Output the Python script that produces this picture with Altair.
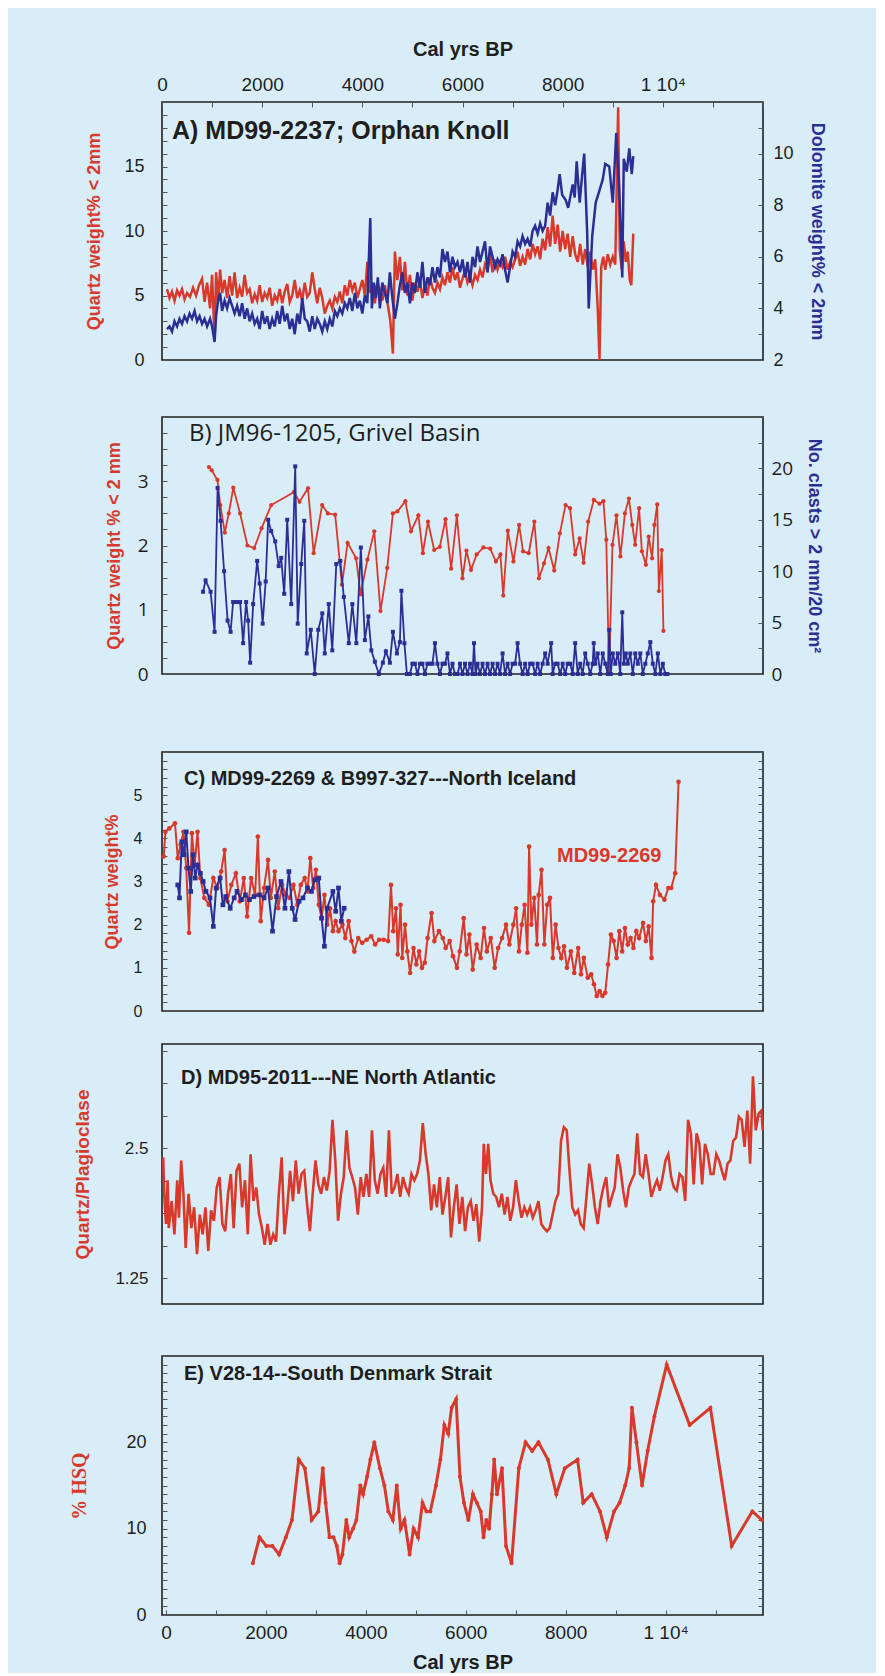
import altair as alt
import pandas as pd

# ---------------- colours / fonts ----------------
RED = "#d8392b"
BLUE = "#2c2e93"
BG = "#d8edf8"
INK = "#1e1e1e"
TICK = "#555555"
SANS = "Liberation Sans"
SERIF = "Liberation Serif"
OPEN = "Open Sans"

W = 601

# ---------------- axis ticks / labels ----------------
x_ticks = [0, 1000, 2000, 3000, 4000, 5000, 6000, 7000, 8000, 9000, 10000, 11000, 12000]
x_labels = [(0, "0"), (2000, "2000"), (4000, "4000"), (6000, "6000"), (8000, "8000"), (10000, "1 10⁴")]
x_title = "Cal yrs BP"

# ---------------- Panel A : MD99-2237 ----------------
a_title = "A) MD99-2237; Orphan Knoll"
a_q_yr = [100, 150, 200, 250, 300, 350, 400, 450, 500, 560, 620, 680, 740, 800, 850, 900, 960, 1000, 1050, 1080,
          1120, 1160, 1200, 1250, 1300, 1350, 1400, 1450, 1500, 1550, 1600, 1650, 1700, 1750, 1800, 1850, 1900, 1950,
          2000, 2050, 2100, 2150, 2200, 2250, 2300, 2350, 2400, 2450, 2500, 2550, 2600, 2650, 2700, 2750, 2800, 2850,
          2900, 2950, 3000, 3050, 3100, 3150, 3200, 3250, 3300, 3350, 3400, 3450, 3500, 3550, 3600, 3650, 3700, 3750,
          3800, 3850, 3900, 3950, 4000, 4050, 4100, 4150, 4200, 4250, 4300, 4350, 4400, 4450, 4500, 4560, 4610, 4650,
          4700, 4750, 4800, 4850, 4900, 4950, 5000, 5050, 5100, 5150, 5200, 5250, 5300, 5350, 5400, 5450, 5500, 5550,
          5600, 5650, 5700, 5750, 5800, 5850, 5900, 5950, 6000, 6050, 6100, 6150, 6200, 6250, 6300, 6350, 6400, 6450,
          6500, 6550, 6600, 6650, 6700, 6750, 6800, 6850, 6900, 6950, 7000, 7050, 7100, 7150, 7200, 7250, 7300, 7350,
          7400, 7450, 7500, 7550, 7600, 7650, 7700, 7750, 7800, 7850, 7900, 7950, 8000, 8050, 8100, 8150, 8200, 8250,
          8300, 8350, 8400, 8450, 8500, 8550, 8600, 8650, 8700, 8735, 8770, 8810, 8850, 8900, 8950, 9000, 9050, 9108,
          9140, 9180, 9220, 9260, 9300, 9340, 9370, 9410]
a_quartz = [5.5, 4.8, 5.3, 4.6, 5.4, 5.0, 5.5, 4.7, 5.2, 4.9, 5.6, 5.0, 5.8, 6.3, 4.5, 6.0, 4.0, 6.6, 1.5, 6.8,
            4.6, 7.0, 5.2, 6.2, 4.8, 6.5, 5.0, 6.8, 4.8, 5.6, 4.9, 6.6, 5.2, 5.5, 4.4, 5.1, 4.6, 5.8,
            4.5, 5.2, 4.8, 5.6, 4.2, 5.0, 4.6, 5.5, 4.4, 5.3, 5.9, 4.5, 5.0, 6.2, 4.8, 5.4, 4.6, 6.0,
            4.9, 5.2, 6.8, 5.5, 4.4, 5.6, 4.8, 3.6, 4.2, 4.6, 4.0, 4.9, 4.5, 5.3, 4.4, 5.8, 5.0, 6.2,
            5.4, 6.0, 4.8, 5.5, 6.2, 5.0, 7.6, 5.2, 5.8, 4.4, 6.0, 5.5, 4.6, 5.8, 4.5, 3.0, 0.5, 8.4,
            6.2, 8.0, 5.4, 7.6, 5.0, 6.6, 4.6, 6.0, 5.3, 6.2, 4.8, 5.8, 5.0, 6.4, 5.6, 5.2, 6.0, 5.5,
            6.4, 5.8, 6.8, 6.0, 7.2, 6.2, 6.8, 5.6, 6.3, 6.9, 6.0, 6.5, 5.8, 6.6, 6.2, 7.0, 6.4, 7.4,
            7.0, 8.2, 6.8, 7.8, 7.0, 7.6, 7.2, 8.0, 7.0, 7.6, 7.2, 7.8, 8.4, 7.3, 8.0, 7.4, 8.6, 7.8,
            9.0, 8.2, 8.8, 7.8, 9.4, 8.5, 10.3, 8.8, 11.2, 9.0, 10.5, 8.4, 10.0, 8.6, 9.8, 8.0, 9.6, 8.2,
            7.6, 9.0, 7.4, 8.6, 7.2, 8.4, 7.0, 7.8, 4.0, 0.0, 7.2, 8.0, 7.0, 8.2, 7.4, 8.0, 7.4, 19.6,
            8.5, 7.0, 9.2, 7.6, 8.4, 6.2, 5.8, 9.8]
a_d_yr = [100, 150, 200, 250, 300, 350, 400, 450, 500, 550, 600, 650, 700, 750, 800, 850, 900, 960, 1000, 1050,
          1080, 1120, 1160, 1200, 1250, 1300, 1350, 1400, 1450, 1500, 1550, 1600, 1650, 1700, 1750, 1800, 1850, 1900,
          1950, 2000, 2050, 2100, 2150, 2200, 2250, 2300, 2350, 2400, 2450, 2500, 2550, 2600, 2650, 2700, 2750, 2800,
          2850, 2900, 2950, 3000, 3050, 3100, 3150, 3200, 3250, 3300, 3350, 3400, 3450, 3500, 3550, 3600, 3650, 3700,
          3750, 3800, 3850, 3900, 3950, 4000, 4050, 4100, 4158, 4190, 4230, 4270, 4310, 4350, 4400, 4450, 4500, 4550,
          4600, 4650, 4700, 4750, 4800, 4850, 4900, 4950, 5000, 5050, 5100, 5150, 5200, 5250, 5300, 5350, 5400, 5450,
          5500, 5550, 5600, 5650, 5700, 5750, 5800, 5850, 5900, 5950, 6000, 6050, 6100, 6150, 6200, 6250, 6300, 6350,
          6400, 6450, 6500, 6550, 6600, 6650, 6700, 6750, 6800, 6850, 6900, 6950, 7000, 7050, 7100, 7150, 7200, 7250,
          7300, 7350, 7400, 7450, 7500, 7550, 7600, 7650, 7700, 7750, 7800, 7850, 7900, 7940, 7990, 8060, 8110, 8160,
          8200, 8240, 8280, 8320, 8340, 8390, 8430, 8490, 8520, 8590, 8660, 8740, 8800, 8850, 8930, 9000, 9070, 9130,
          9190, 9220, 9280, 9330, 9380, 9410]
a_dolomite = [3.2, 3.3, 3.1, 3.5, 3.3, 3.6, 3.4, 3.7, 3.5, 3.8, 3.6, 3.9, 3.5, 3.7, 3.4, 3.6, 3.3, 3.6, 3.3, 2.7,
              3.7, 4.3, 4.6, 3.9, 4.3, 4.0, 4.4, 4.1, 3.8, 4.1, 3.7, 4.2, 3.6, 4.0, 3.5, 3.8, 3.4, 3.6,
              3.2, 3.9, 3.4, 3.7, 3.2, 3.6, 3.3, 3.9, 3.4, 4.1, 3.5, 3.8, 3.2, 3.6, 3.0, 3.8, 3.4, 4.4,
              3.6, 3.5, 3.1, 3.7, 3.2, 3.6, 3.4, 3.1, 3.5, 3.2, 3.6, 3.3, 3.9, 3.7, 4.0, 3.8, 4.2, 4.0,
              4.4, 3.9, 4.6, 4.0, 4.3, 3.8, 4.5, 4.2, 7.5, 4.0, 5.0, 4.4, 5.2, 4.0, 5.0, 4.6, 4.2, 5.4,
              4.4, 3.6, 4.2, 4.9, 5.4, 4.6, 5.0, 4.2, 5.0, 4.6, 5.4, 4.8, 5.8, 4.6, 5.2, 4.9, 5.6, 5.0,
              5.6, 5.2, 6.3, 5.8, 6.2, 5.4, 6.0, 5.6, 5.8, 5.4, 5.9, 5.2, 5.8, 5.0, 6.0, 5.6, 6.4, 5.8,
              6.2, 6.6, 5.4, 6.4, 6.0, 5.6, 5.9, 5.7, 6.1, 5.5, 5.0, 5.6, 6.2, 6.0, 6.6, 6.4, 6.8, 6.5,
              6.7, 6.4, 7.0, 7.2, 6.9, 7.3, 7.0, 7.2, 8.1, 7.6, 8.5, 8.0, 8.6, 9.2, 8.4, 8.2, 7.9, 8.4,
              8.8, 8.3, 9.7, 8.6, 8.1, 9.2, 10.0, 6.9, 4.0, 6.8, 8.1, 8.6, 9.0, 9.6, 9.5, 8.1, 10.8, 8.6,
              5.2, 9.8, 9.3, 10.2, 9.2, 9.9]
a_left_ticks = list(range(0, 21))
a_left_labels = [(0, "0"), (5, "5"), (10, "10"), (15, "15")]
a_right_ticks = list(range(2, 13))
a_right_labels = [(2, "2"), (4, "4"), (6, "6"), (8, "8"), (10, "10")]

# ---------------- Panel B : JM96-1205 ----------------
b_title = "B) JM96-1205, Grivel Basin"
b_q_yr = [938, 994, 1107, 1164, 1254, 1333, 1424, 1559, 1706, 1842, 1989, 2181, 2633, 2746, 2915, 3028, 3198, 3311,
          3458, 3593, 3706, 3876, 3966, 4102, 4238, 4362, 4497, 4610, 4701, 4859, 4972, 5119, 5209, 5311, 5435, 5548,
          5661, 5774, 5887, 6000, 6079, 6170, 6283, 6418, 6554, 6667, 6757, 6814, 6904, 7017, 7130, 7209, 7322, 7435,
          7526, 7628, 7718, 7831, 7944, 8057, 8147, 8249, 8339, 8419, 8509, 8622, 8735, 8814, 8871, 8927, 8995, 9074,
          9153, 9243, 9323, 9390, 9447, 9526, 9582, 9662, 9718, 9786, 9831, 9888, 9921, 9978, 10012]
b_quartz = [3.22, 3.17, 3.02, 2.63, 2.2, 2.5, 2.9, 2.5, 2.0, 1.96, 2.27, 2.63, 2.83, 2.68, 2.89, 1.88, 2.63, 2.5,
            2.48, 1.39, 2.04, 1.8, 1.24, 1.78, 2.22, 0.98, 1.65, 2.5, 2.53, 2.69, 2.22, 2.47, 1.88, 2.37, 1.93, 1.98,
            2.41, 1.64, 2.47, 1.49, 1.92, 1.62, 1.86, 1.97, 1.95, 1.75, 1.86, 1.22, 2.23, 1.75, 2.32, 1.91, 1.88, 2.37,
            1.49, 1.72, 1.96, 1.61, 2.19, 2.63, 2.58, 1.86, 2.11, 1.73, 2.37, 2.71, 2.65, 2.69, 2.09, 0.0, 2.01, 2.47,
            1.83, 2.5, 2.73, 2.32, 2.01, 2.58, 1.91, 1.7, 2.14, 1.8, 2.32, 2.64, 1.29, 1.93, 0.67]
b_c_yr = [820, 870, 970, 1050, 1110, 1170, 1240, 1310, 1370, 1420, 1490, 1560, 1620, 1680, 1720, 1760, 1820, 1900,
          1950, 2010, 2070, 2120, 2180, 2260, 2330, 2380, 2440, 2500, 2580, 2660, 2710, 2780, 2840, 2890, 2970, 3050,
          3120, 3200, 3250, 3330, 3400, 3480, 3560, 3630, 3730, 3800, 3880, 3970, 4050, 4120, 4180, 4250, 4330, 4410,
          4470, 4550, 4610, 4690, 4750, 4780, 4840, 4890, 4950, 5000, 5050, 5100, 5150, 5200, 5250, 5300, 5350, 5400,
          5450, 5500, 5550, 5600, 5650, 5700, 5750, 5800, 5850, 5900, 5950, 6000, 6050, 6100, 6150, 6200, 6230, 6260,
          6300, 6350, 6400, 6450, 6500, 6550, 6600, 6650, 6700, 6750, 6800, 6850, 6900, 6950, 7000, 7050, 7100, 7150,
          7200, 7250, 7300, 7350, 7400, 7450, 7500, 7550, 7600, 7650, 7700, 7770, 7800, 7850, 7900, 7950, 8000, 8050,
          8100, 8150, 8200, 8250, 8300, 8350, 8400, 8450, 8500, 8550, 8600, 8620, 8650, 8700, 8750, 8800, 8850, 8900,
          8930, 8960, 9000, 9050, 9100, 9150, 9190, 9220, 9260, 9300, 9350, 9400, 9450, 9500, 9550, 9600, 9650, 9700,
          9750, 9800, 9850, 9900, 9950, 10000, 10050, 10090]
b_clasts = [8.0, 9.1, 8.0, 4.1, 18.1, 14.9, 10.0, 5.2, 4.1, 7.0, 7.0, 7.0, 3.0, 7.0, 5.2, 1.1, 6.8, 11.0,
            8.8, 4.9, 9.0, 15.0, 13.9, 12.9, 10.5, 11.3, 7.8, 15.0, 6.8, 20.2, 4.9, 10.7, 14.9, 2.0, 4.3, 0.0,
            4.3, 5.9, 2.0, 6.8, 2.3, 10.7, 11.0, 7.5, 3.0, 6.8, 3.0, 12.3, 3.3, 5.6, 2.3, 1.2, 0.0, 1.1,
            2.2, 1.1, 4.1, 2.0, 3.1, 8.1, 3.0, 0.0, 0.0, 1.0, 1.0, 0.0, 1.0, 1.0, 0.0, 1.0, 1.0, 1.0,
            3.0, 1.0, 0.0, 1.0, 1.0, 2.0, 0.0, 1.0, 0.0, 0.0, 1.0, 0.0, 1.0, 0.0, 1.0, 0.0, 3.0, 0.0,
            1.0, 0.0, 1.0, 0.0, 1.0, 0.0, 1.0, 0.0, 1.0, 0.0, 2.0, 0.0, 1.0, 0.0, 1.0, 1.0, 3.0, 1.0,
            0.0, 1.0, 0.0, 1.0, 1.0, 0.0, 1.0, 0.0, 1.0, 2.0, 1.0, 3.0, 0.0, 1.0, 1.0, 0.0, 1.0, 0.0,
            1.0, 1.0, 0.0, 3.0, 0.0, 1.0, 0.0, 2.0, 1.0, 0.0, 1.0, 3.0, 1.0, 2.0, 0.0, 2.0, 1.0, 0.0,
            4.3, 0.0, 2.0, 1.0, 2.0, 0.0, 6.0, 1.0, 2.0, 1.0, 2.0, 0.0, 2.0, 1.0, 2.0, 0.0, 1.0, 2.0,
            3.1, 1.0, 0.0, 2.0, 0.0, 1.0, 0.0, 0.0]
b_left_ticks = [0, 0.25, 0.5, 0.75, 1, 1.25, 1.5, 1.75, 2, 2.25, 2.5, 2.75, 3, 3.25, 3.5, 3.75, 4]
b_left_labels = [(0, "0"), (1, "1"), (2, "2"), (3, "3")]
b_right_ticks = [0, 2.5, 5, 7.5, 10, 12.5, 15, 17.5, 20, 22.5, 25]
b_right_labels = [(0, "0"), (5, "5"), (10, "10"), (15, "15"), (20, "20")]

# ---------------- Panel C : MD99-2269 & B997-327 ----------------
c_title = "C) MD99-2269 & B997-327---North Iceland"
c_q_yr = [34, 68, 146, 259, 315, 372, 428, 484, 540, 597, 653, 709, 766, 845, 935, 1025, 1103, 1182, 1250, 1306,
          1385, 1475, 1554, 1633, 1700, 1779, 1858, 1914, 1971, 2038, 2117, 2173, 2252, 2320, 2398, 2477, 2545, 2624,
          2702, 2770, 2849, 2905, 2961, 3018, 3074, 3130, 3187, 3243, 3299, 3355, 3412, 3468, 3524, 3603, 3660, 3727,
          3783, 3840, 3918, 3997, 4087, 4177, 4256, 4335, 4425, 4515, 4572, 4617, 4673, 4707, 4763, 4797, 4853, 4898,
          4954, 5022, 5078, 5135, 5191, 5247, 5303, 5382, 5439, 5529, 5607, 5664, 5743, 5810, 5889, 5945, 6024, 6080,
          6137, 6204, 6283, 6362, 6429, 6486, 6565, 6643, 6711, 6790, 6869, 6936, 7015, 7071, 7128, 7184, 7240, 7296,
          7330, 7375, 7432, 7488, 7522, 7578, 7634, 7691, 7747, 7803, 7859, 7916, 7972, 8028, 8085, 8164, 8231, 8310,
          8366, 8422, 8501, 8569, 8625, 8681, 8738, 8794, 8850, 8907, 8963, 9019, 9076, 9132, 9188, 9244, 9301, 9357,
          9413, 9470, 9526, 9605, 9661, 9717, 9774, 9807, 9864, 9942, 10032, 10111, 10168, 10247, 10314]
c_quartz = [3.58, 4.15, 4.23, 4.35, 3.54, 3.85, 4.15, 3.31, 1.81, 4.12, 3.38, 4.15, 3.08, 2.62, 2.46, 3.08, 2.85, 3.23,
            3.73, 2.54, 2.92, 3.19, 2.54, 3.08, 2.19, 3.08, 2.69, 4.04, 2.08, 2.85, 3.5, 2.62, 3.23, 2.38, 2.92, 2.69,
            2.62, 2.92, 2.46, 2.92, 3.08, 2.77, 3.54, 2.85, 3.27, 2.46, 2.15, 2.69, 2.0, 2.38, 1.85, 2.08, 1.85, 2.0,
            1.69, 2.08, 1.62, 1.38, 1.69, 1.58, 1.65, 1.73, 1.54, 1.65, 1.65, 1.62, 2.92, 1.85, 2.38, 1.31, 2.46, 1.23,
            2.0, 1.38, 0.88, 1.46, 1.08, 1.38, 1.0, 1.12, 1.69, 2.27, 1.62, 1.85, 1.69, 1.46, 1.62, 1.27, 1.0, 1.38,
            2.15, 1.31, 1.77, 0.96, 1.54, 1.23, 1.92, 1.38, 1.69, 1.0, 1.46, 1.69, 2.0, 1.54, 2.0, 2.38, 1.38, 2.0,
            2.46, 1.35, 3.81, 2.0, 2.62, 1.54, 2.69, 3.27, 1.54, 2.46, 2.62, 1.23, 2.0, 1.46, 1.23, 1.5, 1.0, 1.38,
            0.88, 1.46, 0.85, 1.23, 0.77, 0.85, 0.62, 0.35, 0.46, 0.35, 0.42, 1.08, 1.77, 1.62, 1.23, 1.85, 1.38, 1.92,
            1.54, 1.69, 1.46, 1.85, 1.69, 2.04, 1.62, 1.96, 1.23, 2.54, 2.92, 2.69, 2.58, 2.85, 2.85, 3.19, 5.31]
c_b_yr = [315, 349, 394, 439, 484, 529, 574, 619, 664, 709, 766, 822, 878, 957, 1025, 1081, 1160, 1216, 1272, 1362,
          1441, 1498, 1588, 1666, 1745, 1835, 1948, 2038, 2117, 2207, 2286, 2376, 2455, 2534, 2601, 2657, 2736, 2815,
          2905, 2984, 3051, 3130, 3187, 3243, 3299, 3412, 3468, 3524, 3581, 3637]
c_b997 = [2.92, 2.62, 3.92, 3.62, 4.15, 3.31, 2.77, 3.62, 3.08, 3.38, 3.19, 3.0, 2.77, 2.62, 1.96, 2.85, 3.08, 2.46,
          2.65, 2.38, 2.62, 2.77, 2.58, 2.69, 2.58, 2.65, 2.69, 2.62, 2.85, 1.85, 2.65, 3.0, 2.38, 3.23, 2.38, 2.12,
          2.54, 2.62, 2.85, 2.77, 3.04, 3.08, 2.15, 1.5, 2.38, 2.77, 2.31, 2.85, 2.08, 2.38]
c_note_text = ["MD99-2269"]
c_note_yr = [8930]
c_note_val = [3.6]
c_ticks = [0, 0.2, 0.4, 0.6, 0.8, 1, 1.2, 1.4, 1.6, 1.8, 2, 2.2, 2.4, 2.6, 2.8, 3, 3.2, 3.4, 3.6, 3.8, 4,
           4.2, 4.4, 4.6, 4.8, 5, 5.2, 5.4, 5.6, 5.8, 6]
c_labels = [(0, "0"), (1, "1"), (2, "2"), (3, "3"), (4, "4"), (5, "5")]

# ---------------- Panel D : MD95-2011 ----------------
d_title = "D) MD95-2011---NE North Atlantic"
d_yr = [23, 45, 79, 113, 135, 192, 248, 304, 338, 383, 428, 473,
        530, 586, 642, 699, 755, 811, 868, 924, 980, 1037, 1093, 1150, 1206, 1262, 1319, 1375, 1431, 1488, 1544,
        1600, 1657, 1713, 1769, 1826, 1882, 1938, 1995, 2051, 2107, 2164, 2220, 2277, 2333, 2389, 2446, 2502, 2558,
        2615, 2671, 2727, 2784, 2840, 2896, 2953, 3009, 3065, 3122, 3178, 3234, 3291, 3347, 3404, 3460, 3516, 3573,
        3629, 3685, 3742, 3798, 3854, 3911, 3967, 4023, 4080, 4136, 4192, 4249, 4305, 4361, 4418, 4474, 4531, 4587,
        4643, 4700, 4756, 4812, 4869, 4925, 4981, 5038, 5094, 5150, 5207, 5263, 5319, 5376, 5432, 5488, 5545, 5601,
        5658, 5714, 5770, 5827, 5883, 5939, 5996, 6052, 6108, 6165, 6221, 6277, 6334, 6390,
        6424, 6469, 6514,
        6559, 6615, 6672, 6728, 6785, 6841, 6897, 6954, 7010, 7066, 7123, 7179, 7235, 7292, 7348, 7404, 7461, 7517,
        7573, 7630, 7686, 7742, 7799, 7855, 7912, 7968, 8024, 8081, 8137, 8193, 8250, 8306, 8362, 8419, 8475, 8531,
        8588, 8644, 8700, 8757, 8813, 8869, 8926, 8982, 9039, 9095, 9151, 9208, 9264, 9320, 9377, 9433, 9489, 9546,
        9602, 9658, 9715, 9771, 9827, 9884, 9940, 9996, 10053, 10109, 10166, 10222, 10278, 10335, 10391, 10447,
        10504, 10560, 10616, 10673, 10729, 10785, 10842, 10898, 10954, 11011, 11067, 11123, 11180, 11236, 11293,
        11349, 11405, 11462, 11518, 11574, 11631, 11687, 11743, 11800, 11856, 11912, 11969,
        11995]
d_ratio = [2.41, 2.06, 1.77, 2.19, 1.73, 1.99, 1.67, 2.19, 1.83, 2.38, 2.06, 1.54,
           2.06, 1.73, 1.93, 1.48, 1.86, 1.67, 1.93, 1.51, 1.90, 1.80, 2.12, 2.22, 1.77, 1.70, 2.06, 2.25, 1.73, 2.28,
           2.35, 1.93, 2.19, 1.67, 2.44, 1.99, 2.12, 1.86, 1.73, 1.57, 1.77, 1.57, 1.67, 1.60, 2.06, 2.41, 1.67, 1.93,
           2.28, 1.99, 2.38, 2.06, 2.25, 2.28, 1.96, 1.70, 2.06, 2.38, 2.15, 2.06, 2.22, 2.09, 2.28, 2.77, 2.38, 1.80,
           2.06, 2.22, 2.67, 2.31, 2.22, 2.12, 1.86, 2.22, 2.03, 2.25, 2.03, 2.67, 2.19, 2.06, 2.25, 2.31, 2.03, 2.67,
           2.06, 2.12, 2.25, 2.03, 2.22, 2.12, 2.06, 2.25, 2.19, 2.25, 2.38, 2.74, 2.45, 2.25, 1.90, 2.15, 1.93, 2.22,
           1.86, 2.03, 2.22, 1.64, 1.93, 2.15, 1.77, 2.03, 1.70, 1.93, 1.99, 1.80, 1.96, 1.60, 1.93,
           2.54, 2.25, 2.54,
           2.19, 2.06, 2.03, 1.93, 2.06, 1.86, 2.03, 1.80, 1.93, 2.19, 1.99, 1.83, 1.93, 1.86, 1.93, 1.83, 1.90, 1.99,
           1.77, 1.73, 1.70, 1.73, 1.86, 1.99, 2.06, 2.57, 2.70, 2.67, 2.28, 1.93, 1.86, 1.90, 1.77, 1.73, 2.03, 2.35,
           2.15, 1.93, 1.77, 1.99, 2.12, 2.22, 1.93, 2.03, 2.12, 2.44, 2.31, 2.09, 1.93, 2.12, 2.19, 2.25, 2.64, 2.25,
           2.22, 2.44, 2.25, 2.03, 2.12, 2.19, 2.09, 2.22, 2.38, 2.44, 2.22, 2.12, 2.09, 2.25, 2.22, 1.99,
           2.77, 2.64, 2.15, 2.64, 2.54, 2.15, 2.54, 2.44, 2.25, 2.25, 2.44, 2.38, 2.28, 2.19, 2.35,
           2.38, 2.57, 2.60, 2.80, 2.77, 2.51, 2.86, 2.35, 3.19, 2.67, 2.83, 2.86,
           2.67]
d_ticks = [1.25, 1.5625, 1.875, 2.1875, 2.5, 2.8125, 3.125, 3.4375]
d_labels = [(1.25, "1.25"), (2.5, "2.5")]

# ---------------- Panel E : V28-14 ----------------
e_title = "E) V28-14--South Denmark Strait"
e_yr = [1738, 1872, 2007, 2130, 2264, 2399, 2522, 2657, 2780, 2915, 3049, 3139, 3195, 3273, 3352, 3419, 3475, 3531,
        3610, 3666, 3744, 3811, 3890, 3946, 4024, 4092, 4170, 4282, 4372, 4450, 4540, 4619, 4697, 4775, 4876, 4955,
        5045, 5134, 5213, 5291, 5403, 5493, 5571, 5650, 5717, 5807, 5885, 5964, 6053, 6143, 6222, 6300, 6356, 6412,
        6468, 6524, 6569, 6625, 6726, 6805, 6917, 7062, 7197, 7331, 7455, 7645, 7813, 7982, 8239, 8351, 8520, 8688,
        8823, 8968, 9080, 9192, 9271, 9327, 9417, 9529, 9641, 9776, 10022, 10482, 10897, 11323, 11737, 11930]
e_hsq = [6, 9, 8, 8, 7, 9, 11, 18, 17, 11, 12, 17, 13, 9, 9, 8, 6, 7,
         11, 9, 10, 11, 15, 14, 16, 18, 20, 17, 15, 12, 11, 15, 10, 11, 7, 10,
         9, 13, 12, 12, 15, 18, 22, 21, 24, 25, 16, 13, 11, 14, 13, 12, 9, 11,
         10, 14, 18, 14, 17, 8, 6, 17, 20, 19, 20, 18, 14, 17, 18, 13, 14, 12,
         9, 12, 13, 15, 17, 24, 20, 15, 19, 23, 29, 22, 24, 8, 12, 11]
e_ticks = list(range(0, 31))
e_labels = [(0, "0"), (10, "10"), (20, "20")]


# ---------------- helpers ----------------
def label_expr(pairs):
    if not pairs:
        return "''"
    parts = [f"datum.value == {v} ? '{t}'" for v, t in pairs]
    return " : ".join(parts) + " : ''"


def yaxis(orient, ticks, labels, title=None, tcolor=RED, tfont=SANS, tsize=18, lfont=SANS, lsize=18,
          lpad=16, tpad=12):
    kw = dict(orient=orient, values=ticks, labelExpr=label_expr(labels), labelFont=lfont, labelFontSize=lsize,
              labelColor=INK, labelPadding=lpad, labelOverlap=False, tickSize=5, tickColor=TICK, tickWidth=1,
              offset=-5, domain=False, grid=False, title=title)
    if title:
        kw.update(titleColor=tcolor, titleFont=tfont, titleFontSize=tsize, titleFontWeight="bold",
                  titlePadding=tpad)
    return alt.Axis(**kw)


def xaxis(orient, lpad, tpad):
    return alt.Axis(orient=orient, values=x_ticks, labelExpr=label_expr(x_labels), labelFont=SANS,
                    labelFontSize=19, labelColor=INK, labelPadding=lpad, labelOverlap=False, labelFlush=False,
                    tickSize=5, tickColor=TICK, offset=-5, domain=False, grid=False, title=x_title,
                    titleFont=SANS, titleFontSize=20, titleFontWeight="bold", titleColor=INK, titlePadding=tpad)


def panel_label(text, px, py, font, size, weight):
    return alt.Chart(pd.DataFrame({"t": [text]})).mark_text(
        align="left", baseline="middle", font=font, fontSize=size, fontWeight=weight, color=INK
    ).encode(x=alt.value(px), y=alt.value(py), text="t:N")


def spacer(h):
    return alt.Chart(pd.DataFrame({"s": [0]})).mark_point(opacity=0).encode(
        x=alt.value(0), y=alt.value(0)
    ).properties(width=W, height=h, view=alt.ViewBackground(strokeOpacity=0))


xs = alt.Scale(domain=[0, 12000], nice=False, zero=False)
xs_e = alt.Scale(domain=[-80, 11950], nice=False, zero=False)

# ---------------- Panel A ----------------
dfa_q = pd.DataFrame({"yr": a_q_yr, "v": a_quartz})
dfa_d = pd.DataFrame({"yr": a_d_yr, "v": a_dolomite})
xa = alt.X("yr:Q", scale=xs, axis=xaxis("top", 8, 16))
a_red = alt.Chart(dfa_q).mark_line(color=RED, strokeWidth=2.5).encode(
    x=xa,
    y=alt.Y("v:Q", scale=alt.Scale(domain=[0, 20], nice=False, zero=False),
            axis=yaxis("left", a_left_ticks, a_left_labels, "Quartz weight% < 2mm", RED, lpad=18, tpad=20)))
a_blue = alt.Chart(dfa_d).mark_line(color=BLUE, strokeWidth=2.5).encode(
    x=xa,
    y=alt.Y("v:Q", scale=alt.Scale(domain=[2, 12], nice=False, zero=False),
            axis=yaxis("right", a_right_ticks, a_right_labels, "Dolomite weight% < 2mm", BLUE, lpad=10, tpad=14)))
A = alt.layer(a_red, a_blue, panel_label(a_title, 10, 29, SANS, 25, "bold")).resolve_scale(
    y="independent").properties(width=W, height=258)

# ---------------- Panel B ----------------
dfb_q = pd.DataFrame({"yr": b_q_yr, "v": b_quartz})
dfb_c = pd.DataFrame({"yr": b_c_yr, "v": b_clasts})
xb = alt.X("yr:Q", scale=xs, axis=None)
b_red = alt.Chart(dfb_q).mark_line(color=RED, strokeWidth=1.8,
                                   point=alt.OverlayMarkDef(filled=True, color=RED, size=18)).encode(
    x=xb,
    y=alt.Y("v:Q", scale=alt.Scale(domain=[0, 4], nice=False, zero=False),
            axis=yaxis("left", b_left_ticks, b_left_labels, "Quartz weight % < 2 mm", RED, lfont=OPEN,
                       lsize=19, lpad=14, tpad=14)))
b_blue = alt.Chart(dfb_c).mark_line(color=BLUE, strokeWidth=1.8,
                                    point=alt.OverlayMarkDef(filled=True, color=BLUE, shape="square", size=16)).encode(
    x=xb,
    y=alt.Y("v:Q", scale=alt.Scale(domain=[0, 25], nice=False, zero=False),
            axis=yaxis("right", b_right_ticks, b_right_labels, "No. clasts > 2 mm/20 cm²", BLUE, lfont=OPEN,
                       lsize=19, lpad=8, tpad=12)))
B = alt.layer(b_red, b_blue, panel_label(b_title, 27, 17, OPEN, 24, "normal")).resolve_scale(
    y="independent").properties(width=W, height=257)

# ---------------- Panel C ----------------
dfc_q = pd.DataFrame({"yr": c_q_yr, "v": c_quartz})
dfc_b = pd.DataFrame({"yr": c_b_yr, "v": c_b997})
dfc_n = pd.DataFrame({"yr": c_note_yr, "v": c_note_val, "t": c_note_text})
ysc_c = alt.Scale(domain=[0, 6], nice=False, zero=False)
c_red = alt.Chart(dfc_q).mark_line(color=RED, strokeWidth=2,
                                   point=alt.OverlayMarkDef(filled=True, color=RED, size=22)).encode(
    x=xb,
    y=alt.Y("v:Q", scale=ysc_c, axis=yaxis("left", c_ticks, c_labels, "Quartz weight%", RED, lsize=16,
                                            lpad=20, tpad=12)))
c_blue = alt.Chart(dfc_b).mark_line(color=BLUE, strokeWidth=2,
                                    point=alt.OverlayMarkDef(filled=True, color=BLUE, shape="square", size=22)).encode(
    x=xb,
    y=alt.Y("v:Q", scale=ysc_c, axis=yaxis("right", c_ticks, [])))
c_note = alt.Chart(dfc_n).mark_text(color=RED, font=SANS, fontSize=20, fontWeight="bold").encode(
    x=xb, y=alt.Y("v:Q", scale=ysc_c, axis=None), text="t:N")
C = alt.layer(c_red, c_blue, c_note, panel_label(c_title, 22, 27, SANS, 20, "bold")).resolve_axis(
    y="independent").properties(width=W, height=259)

# ---------------- Panel D ----------------
dfd = pd.DataFrame({"yr": d_yr, "v": d_ratio})
ysc_d = alt.Scale(domain=[1.0, 3.5], nice=False, zero=False)
d_red = alt.Chart(dfd).mark_line(color=RED, strokeWidth=2.6).encode(
    x=xb, y=alt.Y("v:Q", scale=ysc_d, axis=yaxis("left", d_ticks, d_labels, "Quartz/Plagioclase", RED,
                                                 tsize=19, lsize=17, lpad=14, tpad=22)))
d_ghost = alt.Chart(dfd).mark_line(opacity=0).encode(
    x=xb, y=alt.Y("v:Q", scale=ysc_d, axis=yaxis("right", d_ticks, [])))
D = alt.layer(d_red, d_ghost, panel_label(d_title, 19, 34, SANS, 20, "bold")).resolve_axis(
    y="independent").properties(width=W, height=260)

# ---------------- Panel E ----------------
dfe = pd.DataFrame({"yr": e_yr, "v": e_hsq})
ysc_e = alt.Scale(domain=[0, 30], nice=False, zero=False)
xe = alt.X("yr:Q", scale=xs_e, axis=xaxis("bottom", 8, 10))
e_red = alt.Chart(dfe).mark_line(color=RED, strokeWidth=3,
                                 point=alt.OverlayMarkDef(filled=True, color=RED, size=16)).encode(
    x=xe, y=alt.Y("v:Q", scale=ysc_e, axis=yaxis("left", e_ticks, e_labels, "% HSQ", RED, tfont=SERIF,
                                                tsize=20, lsize=18, lpad=16, tpad=36)))
e_ghost = alt.Chart(dfe).mark_line(opacity=0).encode(
    x=xe, y=alt.Y("v:Q", scale=ysc_e, axis=yaxis("right", e_ticks, [])))
E = alt.layer(e_red, e_ghost, panel_label(e_title, 22, 18, SANS, 20, "bold")).resolve_axis(
    y="independent").properties(width=W, height=259)

chart = alt.vconcat(A, spacer(57), B, spacer(78), C, spacer(33), D, spacer(52), E,
                    spacing=0, bounds="flush").properties(
    background=BG, padding={"left": 61, "top": 30, "right": 50, "bottom": 0}
).configure_view(stroke=INK, strokeWidth=1.6)

chart.save("out.html", embed_options={"renderer": "svg", "actions": False})
